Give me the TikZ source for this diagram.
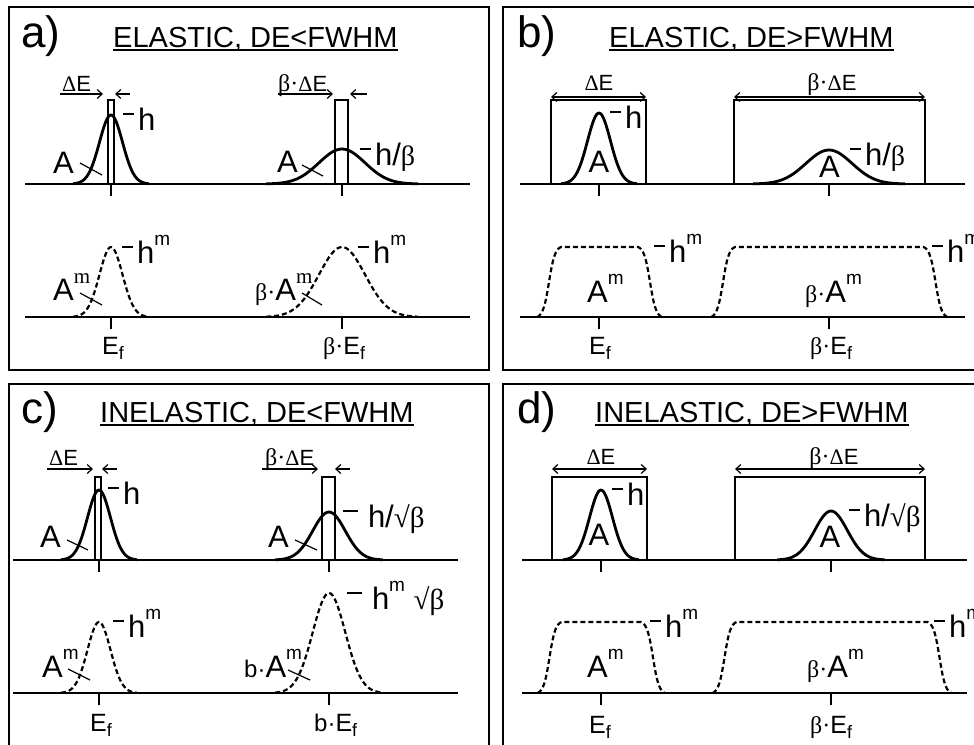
\documentclass[tikz,border=0pt]{standalone}
\usepackage{fontspec}
\setmainfont{Liberation Sans}
\newfontfamily\grk{Liberation Serif}
\usetikzlibrary{arrows.meta}
\tikzset{
	panel/.style={line width=2.3pt},
	axisl/.style={line width=1.5pt},
	gcurve/.style={line width=2.8pt, line join=round},
	dcurve/.style={line width=2.2pt, dash pattern=on 5pt off 3pt},
	boxl/.style={line width=1.2pt},
	ptr/.style={line width=1.2pt},
	uline/.style={line width=1.6pt},
	dearr/.style={line width=1.2pt, -{Straight Barb[length=5pt,width=9pt]}},
	dearrb/.style={line width=1.2pt, {Straight Barb[length=5pt,width=9pt]}-{Straight Barb[length=5pt,width=9pt]}},
	plab/.style={font=\fontsize{44}{44}\selectfont, inner sep=0pt, anchor=base west},
	ttl/.style={font=\fontsize{29}{30}\selectfont, inner sep=0pt, anchor=base west},
	lbl/.style={font=\fontsize{31}{32}\selectfont, inner sep=0pt, anchor=base west},
	lblc/.style={font=\fontsize{31}{32}\selectfont, inner sep=0pt, anchor=base},
	elbl/.style={font=\fontsize{25}{26}\selectfont, inner sep=0pt, anchor=base west},
	dlbl/.style={font=\fontsize{22}{24}\selectfont, inner sep=0pt, anchor=base west},
	dlblc/.style={font=\fontsize{22}{24}\selectfont, inner sep=0pt, anchor=base}
}
% peak shapes: [style]{centre}{baseline}{height}{sigma}
\newcommand\gpeak[5][gcurve]{\draw[#1] plot[domain=-3.3:3.3, samples=61, smooth] ({#2+#5*(\x)},{#3-#4*exp(-(\x)*(\x)/2)});}
% flat top: [style]{left edge}{right edge}{baseline}{height}
\newcommand\fpeak[5][dcurve]{\draw[#1] plot[domain=-4:4, samples=25, smooth] ({#2+3*(\x)},{#4-#5*(1/(1+exp(-(\x)))-0.018)/0.964}) -- plot[domain=-4:4, samples=25, smooth] ({#3+3*(\x)},{#4-#5*(1/(1+exp(\x))-0.018)/0.964});}
\newcommand\lead{\rule[0.5em]{0.36em}{1.4pt}\hspace{0.12em}}
\newcommand\leadw{\rule[0.5em]{0.48em}{1.4pt}\hspace{0.32em}}
\newcommand\supm{\raisebox{0.58em}{\fontsize{19}{19}\selectfont m}}
\newcommand\supmr{\raisebox{0.52em}{\grk\fontsize{21}{21}\selectfont m}}
\newcommand\Ef{E\raisebox{-0.2em}{\fontsize{18}{18}\selectfont f}}
\newcommand\bt{{\grk\fontsize{28}{28}\selectfont β}}
\newcommand\bd{{\grk\fontsize{24}{24}\selectfont β·}}
\newcommand\sbt{{\grk\fontsize{29}{29}\selectfont √β}}
\newcommand\bsm{{\fontsize{24}{24}\selectfont b·}}
\newcommand\dE{{\grk Δ}E}

\begin{document}
\begin{tikzpicture}[x=1pt, y=-1pt]
	\useasboundingbox (0,0) rectangle (974,744);
	% frames
	\draw[panel] (9,7) rectangle (489,370);
	\draw[panel] (503,7) rectangle (990,370);
	\draw[panel] (9,384) rectangle (489,760);
	\draw[panel] (503,384) rectangle (990,760);

	% ---- a) elastic, DE<FWHM
	\node[plab] (pa) at (21,47) {a)};
	\node[ttl] (ta) at (113,47) {ELASTIC, DE<FWHM};
	\draw[uline] ([yshift=-3pt]ta.base west) -- ([yshift=-3pt]ta.base east);
	\draw[axisl] (25,184) -- (470,184);
	\draw[ptr] (111,184) -- ++(0,12);
	\draw[ptr] (342,184) -- ++(0,12);
	\draw[boxl] (108,100) rectangle (114,184);
	\draw[boxl] (335,100) rectangle (348,184);
	\gpeak{111}{184}{69}{11.5}
	\gpeak{342}{184}{35}{23}
	\draw[dearr] (60,94) -- (103,94);
	\draw[dearr] (130,94) -- (115,94);
	\draw[dearr] (278,94) -- (333,94);
	\draw[dearr] (367,94) -- (350,94);
	\node[dlbl] (wa1) at (62,91) {\dE};
	\node[dlbl] (wa2) at (278,91) {\bd\dE};
	\node[lbl] (ha1) at (123,130) {\lead h};
	\node[lbl] (ha2) at (360,165) {\lead h/\bt};
	\node[lbl] (aa1) at (53,173) {A};
	\node[lbl] (aa2) at (277,172) {A};
	\draw[ptr] (80,163) -- (102,175);
	\draw[ptr] (302,165) -- (323,176);
	\draw[axisl] (25,317) -- (470,317);
	\draw[ptr] (111,317) -- ++(0,12);
	\draw[ptr] (342,317) -- ++(0,12);
	\gpeak[dcurve]{111}{317}{70}{11.5}
	\gpeak[dcurve]{342}{317}{70}{23}
	\node[lbl] (hma1) at (122,263) {\lead h\supm};
	\node[lbl] (hma2) at (358,263) {\lead h\supm};
	\node[lbl] (ama1) at (53,300) {A\supmr};
	\node[lbl] (ama2) at (255,300) {\bd A\supmr};
	\draw[ptr] (80,293) -- (102,305);
	\draw[ptr] (302,293) -- (322,305);
	\node[elbl] (ea1) at (102,354) {\Ef};
	\node[elbl] (ea2) at (323,354) {\bd\Ef};

	% ---- b) elastic, DE>FWHM
	\node[plab] (pb) at (517,47) {b)};
	\node[ttl] (tb) at (609,47) {ELASTIC, DE>FWHM};
	\draw[uline] ([yshift=-3pt]tb.base west) -- ([yshift=-3pt]tb.base east);
	\draw[axisl] (520,184) -- (965,184);
	\draw[ptr] (599,184) -- ++(0,12);
	\draw[ptr] (829,184) -- ++(0,12);
	\draw[boxl] (551,100) rectangle (646,184);
	\draw[boxl] (734,100) rectangle (925,184);
	\draw[dearrb] (551,97) -- (646,97);
	\draw[dearrb] (734,97) -- (925,97);
	\node[dlblc] (wb1) at (599,90) {\dE};
	\node[dlblc] (wb2) at (832,90) {\bd\dE};
	\gpeak{599}{184}{71}{11.5}
	\gpeak{829}{184}{34}{23}
	\node[lbl] (hb1) at (610,128) {\lead h};
	\node[lbl] (hb2) at (850,165) {\lead h/\bt};
	\node[lblc] (ab1) at (599,172) {A};
	\node[lblc] (ab2) at (829.5,177) {A};
	\draw[axisl] (520,317) -- (965,317);
	\draw[ptr] (599,317) -- ++(0,12);
	\draw[ptr] (829,317) -- ++(0,12);
	\fpeak{549}{650}{317}{70}
	\fpeak{723}{935.5}{317}{70}
	\node[lbl] (hmb1) at (654,262) {\lead h\supm};
	\node[lbl] (hmb2) at (932,262) {\lead h\supm};
	\node[lbl] (amb1) at (587,302) {A\supm};
	\node[lbl] (amb2) at (805,302) {\bd A\supm};
	\node[elbl] (eb1) at (589,354) {\Ef};
	\node[elbl] (eb2) at (810,354) {\bd\Ef};

	% ---- c) inelastic, DE<FWHM
	\node[plab] (pc) at (21,423) {c)};
	\node[ttl] (tc) at (100,422) {INELASTIC, DE<FWHM};
	\draw[uline] ([yshift=-3pt]tc.base west) -- ([yshift=-3pt]tc.base east);
	\draw[axisl] (13,560) -- (458,560);
	\draw[ptr] (99,560) -- ++(0,12);
	\draw[ptr] (329,560) -- ++(0,12);
	\draw[boxl] (95,477) rectangle (101,560);
	\draw[boxl] (322,477) rectangle (335,560);
	\gpeak{99}{560}{70}{11.5}
	\gpeak{329}{560}{48}{16.3}
	\draw[dearr] (47,469) -- (93,469);
	\draw[dearr] (117,469) -- (102,469);
	\draw[dearr] (262,469) -- (318,469);
	\draw[dearr] (350,469) -- (335,469);
	\node[dlbl] (wc1) at (49,465) {\dE};
	\node[dlbl] (wc2) at (265,465) {\bd\dE};
	\node[lbl] (hc1) at (108,504) {\lead h};
	\node[lbl] (hc2) at (343,527) {\leadw h/\sbt};
	\node[lbl] (ac1) at (40,547) {A};
	\node[lbl] (ac2) at (268,547) {A};
	\draw[ptr] (67,540) -- (88,550);
	\draw[ptr] (295,540) -- (317,550);
	\draw[axisl] (13,693) -- (458,693);
	\draw[ptr] (99,693) -- ++(0,12);
	\draw[ptr] (329,693) -- ++(0,12);
	\gpeak[dcurve]{99}{693}{71}{11.5}
	\gpeak[dcurve]{329}{693}{100}{16.3}
	\node[lbl] (hmc1) at (113,637) {\lead h\supm};
	\node[lbl] (hmc2) at (347,609) {\leadw h\supm\ \sbt};
	\node[lbl] (amc1) at (42,677) {A\supm};
	\node[lbl] (amc2) at (244,677) {\bsm A\supm};
	\draw[ptr] (68,669) -- (90,680);
	\draw[ptr] (288,670) -- (310,680);
	\node[elbl] (ec1) at (90,731) {\Ef};
	\node[elbl] (ec2) at (314,731) {\bsm\Ef};

	% ---- d) inelastic, DE>FWHM
	\node[plab] (pd) at (517,423) {d)};
	\node[ttl] (td) at (595,422) {INELASTIC, DE>FWHM};
	\draw[uline] ([yshift=-3pt]td.base west) -- ([yshift=-3pt]td.base east);
	\draw[axisl] (522,560) -- (967,560);
	\draw[ptr] (601,560) -- ++(0,12);
	\draw[ptr] (831,560) -- ++(0,12);
	\draw[boxl] (552,477) rectangle (647,560);
	\draw[boxl] (735,477) rectangle (925,560);
	\draw[dearrb] (552,469) -- (647,469);
	\draw[dearrb] (735,469) -- (925,469);
	\node[dlblc] (wd1) at (601,464) {\dE};
	\node[dlblc] (wd2) at (834,464) {\bd\dE};
	\gpeak{601}{560}{70}{11.5}
	\gpeak{831}{560}{49}{16.3}
	\node[lbl] (hd1) at (612,505) {\lead h};
	\node[lbl] (hd2) at (849,526) {\lead h/\sbt};
	\node[lblc] (ad1) at (599,545) {A};
	\node[lblc] (ad2) at (830,547) {A};
	\draw[axisl] (522,693) -- (967,693);
	\draw[ptr] (601,693) -- ++(0,12);
	\draw[ptr] (831,693) -- ++(0,12);
	\fpeak{549.5}{653}{693}{71}
	\fpeak{724.5}{939.5}{693}{71}
	\node[lbl] (hmd1) at (650,637) {\lead h\supm};
	\node[lbl] (hmd2) at (934,637) {\lead h\supm};
	\node[lbl] (amd1) at (587,677) {A\supm};
	\node[lbl] (amd2) at (807,677) {\bd A\supm};
	\node[elbl] (ed1) at (589,733) {\Ef};
	\node[elbl] (ed2) at (810,733) {\bd\Ef};
\end{tikzpicture}
\end{document}
